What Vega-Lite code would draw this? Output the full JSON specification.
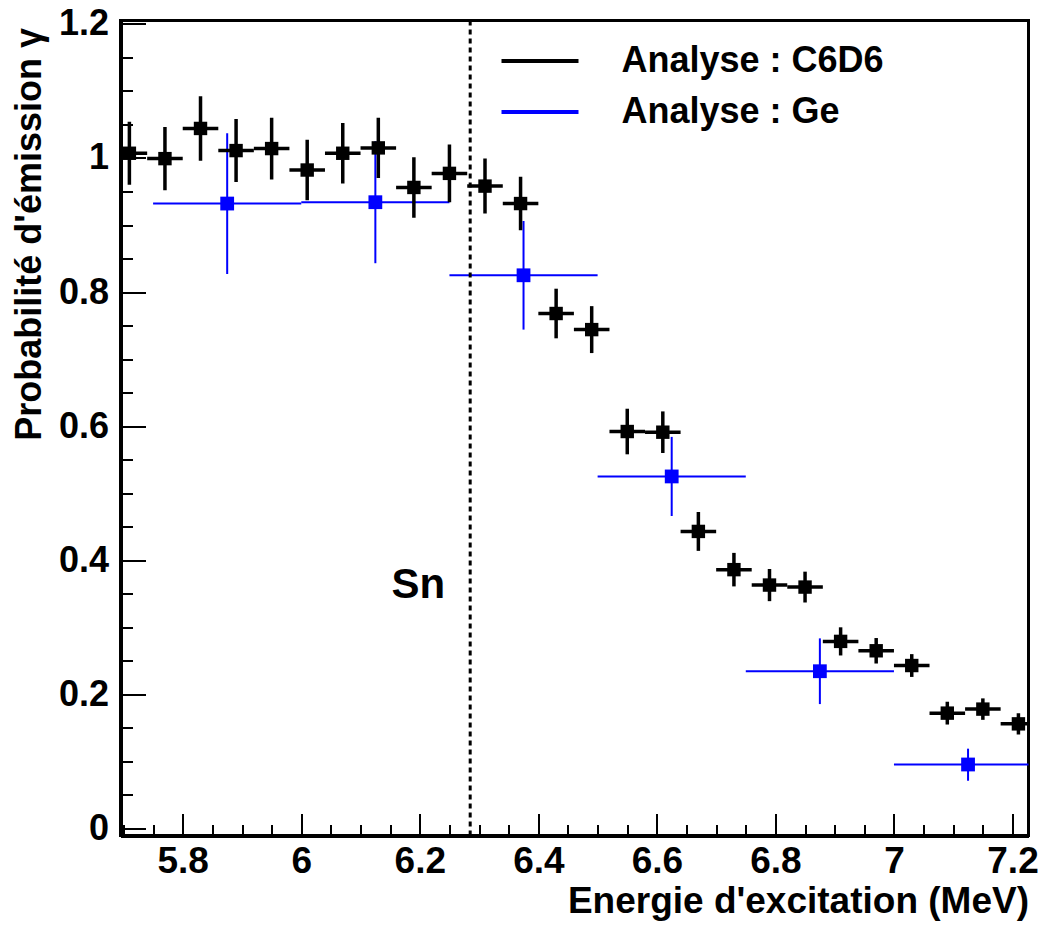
{
  "$schema": "https://vega.github.io/schema/vega-lite/v6.json",
  "width": 908,
  "height": 815,
  "autosize": {"type": "none"},
  "padding": {"left": 120.5, "top": 20.5, "right": 12.5, "bottom": 89.5},
  "background": "white",
  "config": {
    "font": "Liberation Sans",
    "view": {"stroke": "#000000", "strokeWidth": 3},
    "axis": {"grid": false, "labelOverlap": false, "labelFlush": false, "labelBound": false}
  },
  "datasets": {
    "c6d6": [
      {"analyse": "C6D6", "e": 5.71, "elo": 5.68, "ehi": 5.74, "p": 1.007, "plo": 0.960, "phi": 1.054},
      {"analyse": "C6D6", "e": 5.77, "elo": 5.74, "ehi": 5.80, "p": 0.999, "plo": 0.952, "phi": 1.046},
      {"analyse": "C6D6", "e": 5.83, "elo": 5.80, "ehi": 5.86, "p": 1.044, "plo": 0.996, "phi": 1.092},
      {"analyse": "C6D6", "e": 5.89, "elo": 5.86, "ehi": 5.92, "p": 1.011, "plo": 0.964, "phi": 1.058},
      {"analyse": "C6D6", "e": 5.95, "elo": 5.92, "ehi": 5.98, "p": 1.014, "plo": 0.968, "phi": 1.060},
      {"analyse": "C6D6", "e": 6.01, "elo": 5.98, "ehi": 6.04, "p": 0.982, "plo": 0.937, "phi": 1.027},
      {"analyse": "C6D6", "e": 6.07, "elo": 6.04, "ehi": 6.10, "p": 1.007, "plo": 0.962, "phi": 1.052},
      {"analyse": "C6D6", "e": 6.13, "elo": 6.10, "ehi": 6.16, "p": 1.015, "plo": 0.970, "phi": 1.060},
      {"analyse": "C6D6", "e": 6.19, "elo": 6.16, "ehi": 6.22, "p": 0.956, "plo": 0.911, "phi": 1.001},
      {"analyse": "C6D6", "e": 6.25, "elo": 6.22, "ehi": 6.28, "p": 0.977, "plo": 0.934, "phi": 1.020},
      {"analyse": "C6D6", "e": 6.31, "elo": 6.28, "ehi": 6.34, "p": 0.958, "plo": 0.917, "phi": 0.999},
      {"analyse": "C6D6", "e": 6.37, "elo": 6.34, "ehi": 6.40, "p": 0.932, "plo": 0.892, "phi": 0.972},
      {"analyse": "C6D6", "e": 6.43, "elo": 6.40, "ehi": 6.46, "p": 0.768, "plo": 0.731, "phi": 0.805},
      {"analyse": "C6D6", "e": 6.49, "elo": 6.46, "ehi": 6.52, "p": 0.744, "plo": 0.709, "phi": 0.779},
      {"analyse": "C6D6", "e": 6.55, "elo": 6.52, "ehi": 6.58, "p": 0.592, "plo": 0.558, "phi": 0.626},
      {"analyse": "C6D6", "e": 6.61, "elo": 6.58, "ehi": 6.64, "p": 0.591, "plo": 0.560, "phi": 0.622},
      {"analyse": "C6D6", "e": 6.67, "elo": 6.64, "ehi": 6.70, "p": 0.443, "plo": 0.414, "phi": 0.472},
      {"analyse": "C6D6", "e": 6.73, "elo": 6.70, "ehi": 6.76, "p": 0.386, "plo": 0.361, "phi": 0.411},
      {"analyse": "C6D6", "e": 6.79, "elo": 6.76, "ehi": 6.82, "p": 0.363, "plo": 0.339, "phi": 0.387},
      {"analyse": "C6D6", "e": 6.85, "elo": 6.82, "ehi": 6.88, "p": 0.360, "plo": 0.337, "phi": 0.383},
      {"analyse": "C6D6", "e": 6.91, "elo": 6.88, "ehi": 6.94, "p": 0.279, "plo": 0.258, "phi": 0.300},
      {"analyse": "C6D6", "e": 6.97, "elo": 6.94, "ehi": 7.00, "p": 0.265, "plo": 0.246, "phi": 0.284},
      {"analyse": "C6D6", "e": 7.03, "elo": 7.00, "ehi": 7.06, "p": 0.243, "plo": 0.226, "phi": 0.260},
      {"analyse": "C6D6", "e": 7.09, "elo": 7.06, "ehi": 7.12, "p": 0.172, "plo": 0.155, "phi": 0.189},
      {"analyse": "C6D6", "e": 7.15, "elo": 7.12, "ehi": 7.18, "p": 0.178, "plo": 0.162, "phi": 0.194},
      {"analyse": "C6D6", "e": 7.21, "elo": 7.18, "ehi": 7.24, "p": 0.156, "plo": 0.140, "phi": 0.172}
    ],
    "ge": [
      {"analyse": "Ge", "e": 5.875, "elo": 5.75, "ehi": 6.00, "p": 0.932, "plo": 0.827, "phi": 1.037},
      {"analyse": "Ge", "e": 6.125, "elo": 6.00, "ehi": 6.25, "p": 0.934, "plo": 0.843, "phi": 1.025},
      {"analyse": "Ge", "e": 6.375, "elo": 6.25, "ehi": 6.50, "p": 0.825, "plo": 0.744, "phi": 0.906},
      {"analyse": "Ge", "e": 6.625, "elo": 6.50, "ehi": 6.75, "p": 0.525, "plo": 0.466, "phi": 0.584},
      {"analyse": "Ge", "e": 6.875, "elo": 6.75, "ehi": 7.00, "p": 0.2345, "plo": 0.1855, "phi": 0.2835},
      {"analyse": "Ge", "e": 7.125, "elo": 7.00, "ehi": 7.25, "p": 0.0954, "plo": 0.071, "phi": 0.119}
    ],
    "seuil": [{"e": 6.285, "p": 0.343, "nom": "Sn"}]
  },
  "layer": [
    {
      "data": {"name": "ge"},
      "mark": {"type": "rule", "strokeWidth": 2, "clip": true},
      "encoding": {
        "x": {"field": "elo", "type": "quantitative",
          "scale": {"domain": [5.695, 7.227], "nice": false, "zero": false},
          "axis": {"orient": "bottom", "values": [5.8, 6, 6.2, 6.4, 6.6, 6.8, 7, 7.2], "format": "~g",
            "ticks": false, "domainWidth": 4, "domainColor": "#000000",
            "labelFont": "Liberation Sans", "labelFontWeight": "bold", "labelFontSize": 37, "labelColor": "#000000", "labelPadding": 8,
            "title": "Energie d'excitation (MeV)", "titleFont": "Liberation Sans", "titleFontWeight": "bold", "titleFontSize": 37,
            "titleColor": "#000000", "titleAnchor": "end", "titlePadding": 4}},
        "x2": {"field": "ehi"},
        "y": {"field": "p", "type": "quantitative",
          "scale": {"domain": [-0.0105, 1.205], "nice": false, "zero": false},
          "axis": {"orient": "left", "values": [0, 0.2, 0.4, 0.6, 0.8, 1, 1.2], "format": "~g",
            "ticks": false, "domainWidth": 4, "domainColor": "#000000",
            "labelFont": "Liberation Sans", "labelFontWeight": "bold", "labelFontSize": 36, "labelColor": "#000000", "labelPadding": 12,
            "title": "Probabilité d'émission γ", "titleFont": "Liberation Sans", "titleFontWeight": "bold", "titleFontSize": 36,
            "titleColor": "#000000", "titleAnchor": "end", "titlePadding": 10, "titleY": 7}},
        "color": {"field": "analyse", "type": "nominal",
          "scale": {"domain": ["C6D6", "Ge"], "range": ["#000000", "#0000ff"]},
          "legend": {"title": null, "orient": "none", "legendX": 398, "legendY": 19, "padding": 0,
            "symbolType": "M-2,0H2", "symbolSize": 1482, "symbolStrokeWidth": 4,
            "labelExpr": "'Analyse : ' + datum.label", "labelFont": "Liberation Sans", "labelFontWeight": "bold",
            "labelFontSize": 36, "labelColor": "#000000", "labelOffset": 60, "labelLimit": 0, "rowPadding": 11}}
      }
    },
    {
      "data": {"name": "ge"},
      "mark": {"type": "rule", "strokeWidth": 2, "clip": true},
      "encoding": {
        "x": {"field": "e", "type": "quantitative",
          "axis": {"orient": "bottom", "values": [5.8, 6, 6.2, 6.4, 6.6, 6.8, 7, 7.2], "labels": false, "domain": false,
            "tickSize": -22, "tickWidth": 2, "tickColor": "#000000", "title": null}},
        "y": {"field": "plo", "type": "quantitative",
          "axis": {"orient": "left", "values": [0, 0.2, 0.4, 0.6, 0.8, 1, 1.2], "labels": false, "domain": false,
            "tickSize": -25, "tickWidth": 2, "tickColor": "#000000", "title": null}},
        "y2": {"field": "phi"},
        "color": {"field": "analyse", "type": "nominal", "legend": null}
      }
    },
    {
      "data": {"name": "ge"},
      "mark": {"type": "point", "shape": "square", "filled": true, "size": 190, "opacity": 1},
      "encoding": {
        "x": {"field": "e", "type": "quantitative",
          "axis": {"orient": "bottom", "values": [5.7, 5.75, 5.85, 5.9, 5.95, 6.05, 6.1, 6.15, 6.25, 6.3, 6.35, 6.45, 6.5, 6.55, 6.65, 6.7, 6.75, 6.85, 6.9, 6.95, 7.05, 7.1, 7.15],
            "labels": false, "domain": false, "tickSize": -11, "tickWidth": 2, "tickColor": "#000000", "title": null}},
        "y": {"field": "p", "type": "quantitative",
          "axis": {"orient": "left", "values": [0.05, 0.1, 0.15, 0.25, 0.3, 0.35, 0.45, 0.5, 0.55, 0.65, 0.7, 0.75, 0.85, 0.9, 0.95, 1.05, 1.1, 1.15],
            "labels": false, "domain": false, "tickSize": -12, "tickWidth": 2, "tickColor": "#000000", "title": null}},
        "color": {"field": "analyse", "type": "nominal", "legend": null}
      }
    },
    {
      "data": {"name": "c6d6"},
      "mark": {"type": "rule", "strokeWidth": 3.5, "clip": true},
      "encoding": {
        "x": {"field": "elo", "type": "quantitative", "axis": null},
        "x2": {"field": "ehi"},
        "y": {"field": "p", "type": "quantitative", "axis": null},
        "color": {"field": "analyse", "type": "nominal", "legend": null}
      }
    },
    {
      "data": {"name": "c6d6"},
      "mark": {"type": "rule", "strokeWidth": 3.5, "clip": true},
      "encoding": {
        "x": {"field": "e", "type": "quantitative", "axis": null},
        "y": {"field": "plo", "type": "quantitative", "axis": null},
        "y2": {"field": "phi"},
        "color": {"field": "analyse", "type": "nominal", "legend": null}
      }
    },
    {
      "data": {"name": "c6d6"},
      "mark": {"type": "point", "shape": "square", "filled": true, "size": 180, "opacity": 1},
      "encoding": {
        "x": {"field": "e", "type": "quantitative", "axis": null},
        "y": {"field": "p", "type": "quantitative", "axis": null},
        "color": {"field": "analyse", "type": "nominal", "legend": null}
      }
    },
    {
      "data": {"name": "seuil"},
      "mark": {"type": "rule", "strokeWidth": 3, "strokeDash": [5, 4], "color": "#000000"},
      "encoding": {
        "x": {"field": "e", "type": "quantitative", "axis": null}
      }
    },
    {
      "data": {"name": "seuil"},
      "mark": {"type": "text", "font": "Liberation Sans", "fontWeight": "bold", "fontSize": 42, "color": "#000000",
        "align": "right", "baseline": "alphabetic", "dx": -25},
      "encoding": {
        "x": {"field": "e", "type": "quantitative", "axis": null},
        "y": {"field": "p", "type": "quantitative", "axis": null},
        "text": {"field": "nom"}
      }
    }
  ],
  "resolve": {"axis": {"x": "independent", "y": "independent"}}
}
